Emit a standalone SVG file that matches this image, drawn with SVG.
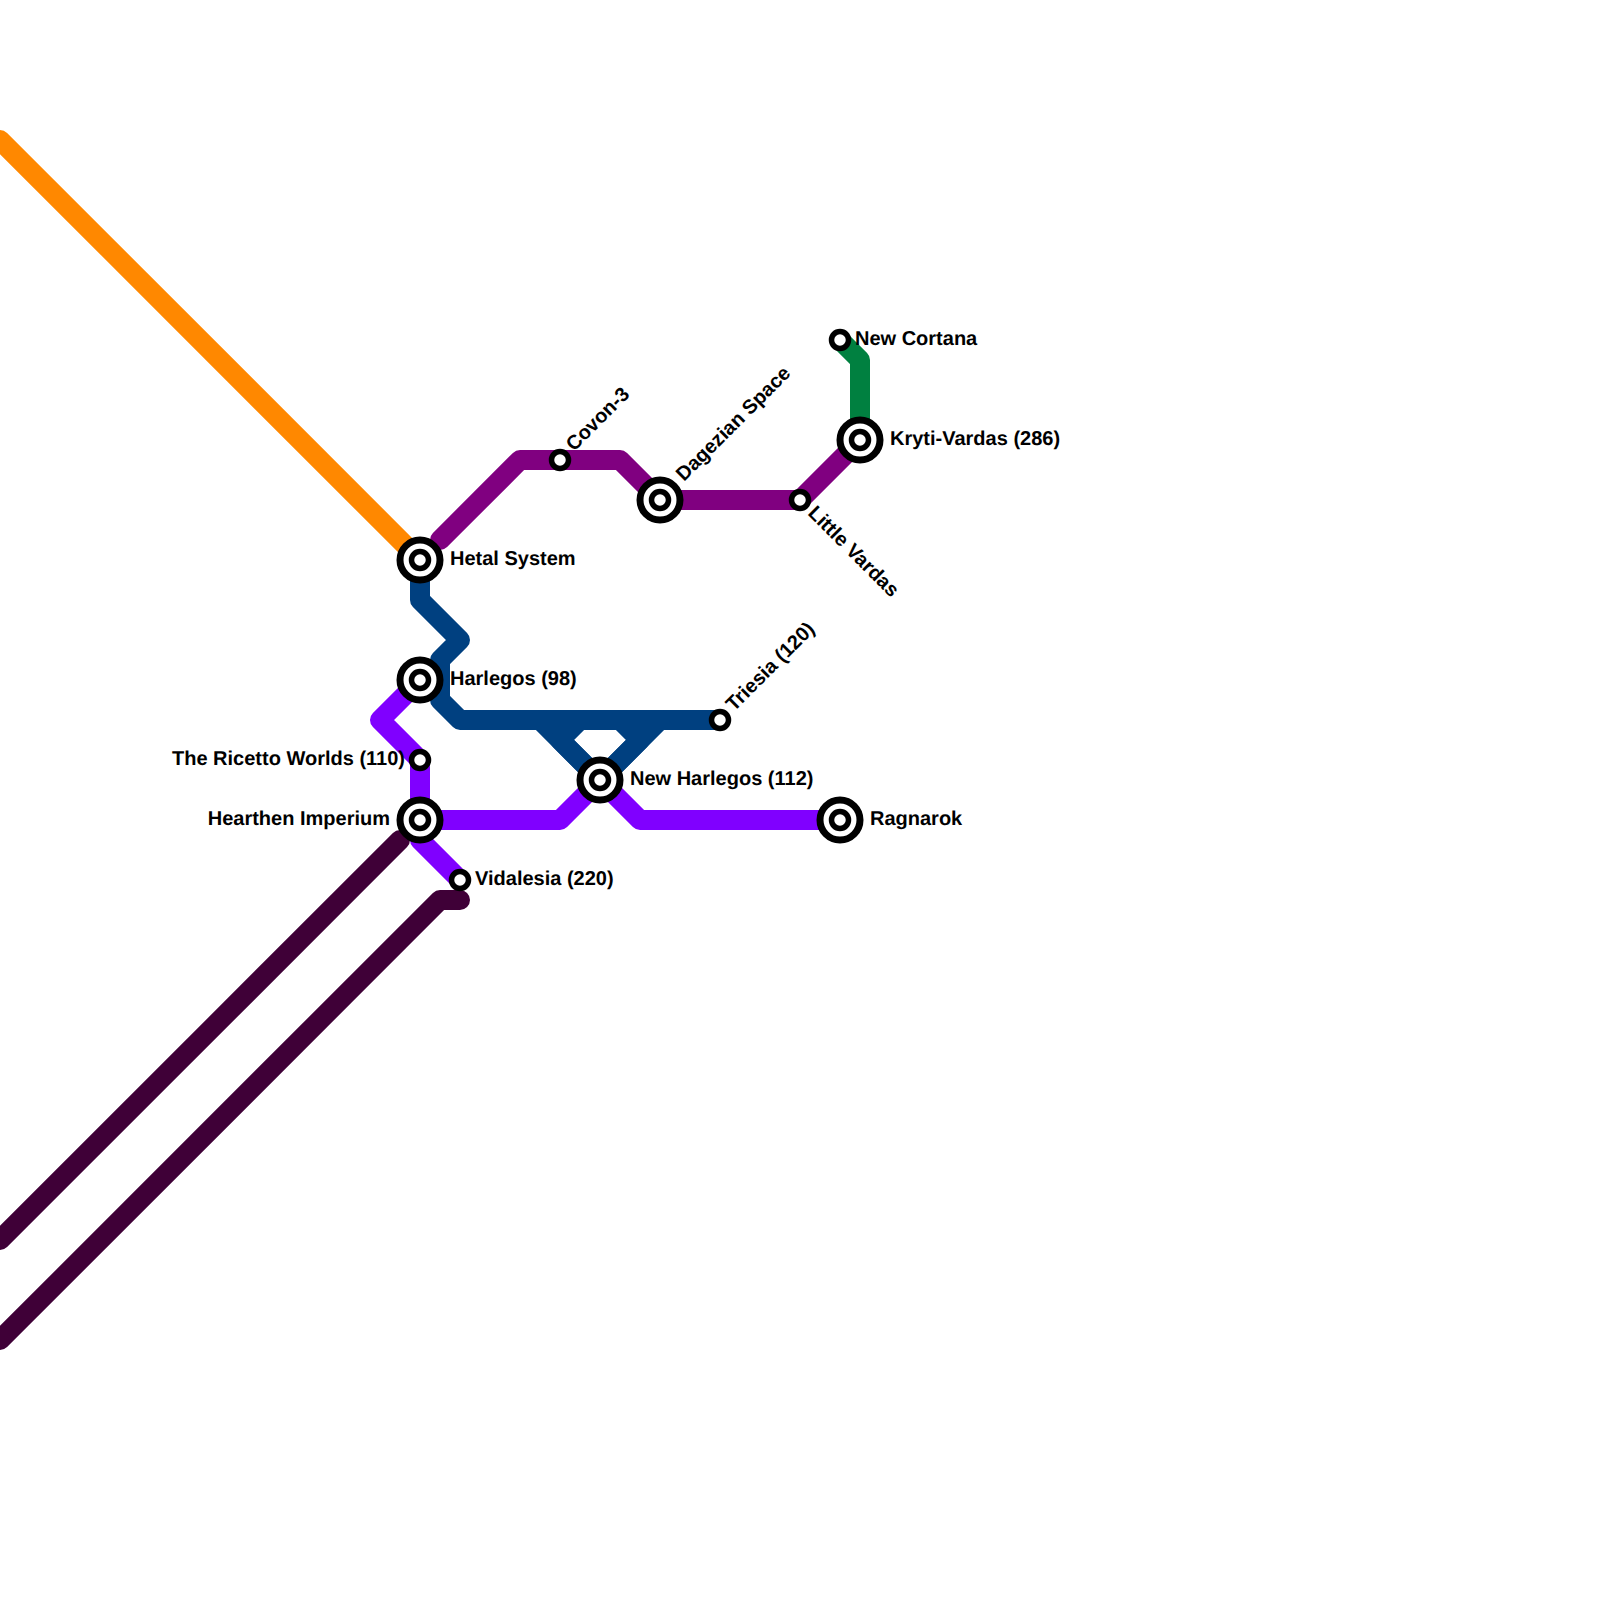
<svg xmlns="http://www.w3.org/2000/svg" width="1600" height="1600" viewBox="0 0 1600 1600">
<style>
.l{fill:none;stroke-width:20;stroke-linecap:round;stroke-linejoin:round}
.o{fill:#fff;stroke:#000;stroke-width:7}
.i{fill:#fff;stroke:#000;stroke-width:5.5}
.t{font-family:"Liberation Sans",Arial,sans-serif;font-weight:700;font-size:20px;fill:#000;text-rendering:geometricPrecision}
</style>
<defs>
<g id="big"><circle class="o" r="20"/><circle class="i" r="8.5"/></g>
<circle id="small" class="i" r="8.5"/>
</defs>
<rect width="1600" height="1600" fill="#fff"/>
<g id="connectors">
<path class="l" stroke="#ff8800" d="M0 140L420 560"/>
<path class="l" stroke="#3f0037" d="M0 1240L400 840"/>
<path class="l" stroke="#3f0037" d="M0 1340L440 900H460"/>
<path class="l" stroke="#8000ff" d="M420 680L380 720L420 760V820H560L600 780L640 820H840"/>
<path class="l" stroke="#8000ff" d="M420 840L460 880"/>
<path class="l" stroke="#004080" d="M420 560V600L460 640L440 660V700L460 720H720"/>
<path class="l" stroke="#004080" d="M540 720L600 780L660 720"/>
<path class="l" stroke="#004080" d="M580 720L560 740L600 780L640 740L620 720"/>
<path class="l" stroke="#800080" d="M440 540L520 460H620L660 500H800L860 440"/>
<path class="l" stroke="#008040" d="M840 340L860 360V440"/>
</g>
<g id="hetal"><use href="#big" x="420" y="560"/><text class="t" x="450" y="565">Hetal System</text></g>
<g id="harlegos"><use href="#big" x="420" y="680"/><text class="t" x="450" y="685">Harlegos (98)</text></g>
<g id="ricetto"><use href="#small" x="420" y="760"/><text class="t" x="405" y="765" text-anchor="end">The Ricetto Worlds (110)</text></g>
<g id="hearthen"><use href="#big" x="420" y="820"/><text class="t" x="390" y="825" text-anchor="end">Hearthen Imperium</text></g>
<g id="vidalesia"><use href="#small" x="460" y="880"/><text class="t" x="475" y="885">Vidalesia (220)</text></g>
<g id="newharlegos"><use href="#big" x="600" y="780"/><text class="t" x="630" y="785">New Harlegos (112)</text></g>
<g id="ragnarok"><use href="#big" x="840" y="820"/><text class="t" x="870" y="825">Ragnarok</text></g>
<g id="triesia"><use href="#small" x="720" y="720"/><text class="t" transform="translate(734 712) rotate(-45)">Triesia (120)</text></g>
<g id="covon"><use href="#small" x="560" y="460"/><text class="t" transform="translate(574 452) rotate(-45)">Covon-3</text></g>
<g id="dagezian"><use href="#big" x="660" y="500"/><text class="t" transform="translate(684 482) rotate(-45)">Dagezian Space</text></g>
<g id="littlevardas"><use href="#small" x="800" y="500"/><text class="t" transform="translate(807 514) rotate(45)">Little Vardas</text></g>
<g id="kryti"><use href="#big" x="860" y="440"/><text class="t" x="890" y="445">Kryti-Vardas (286)</text></g>
<g id="newcortana"><use href="#small" x="840" y="340"/><text class="t" x="855" y="345">New Cortana</text></g>
</svg>
